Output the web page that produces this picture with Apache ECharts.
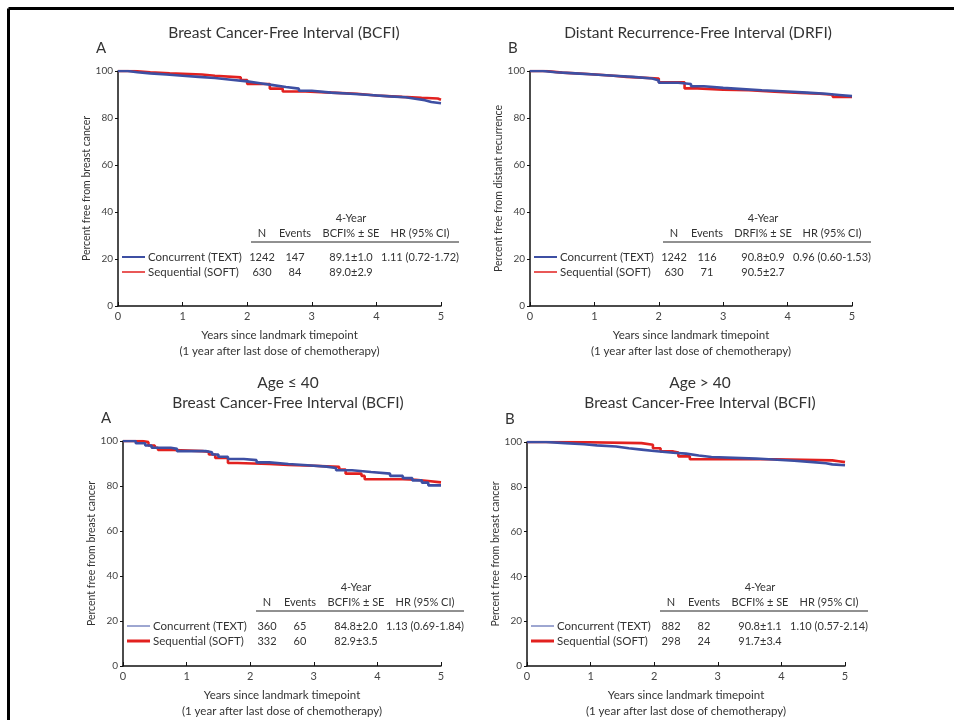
<!DOCTYPE html>
<html>
<head>
<meta charset="utf-8">
<title>BCFI / DRFI by schedule</title>
<script src="https://cdn.jsdelivr.net/npm/echarts@6/dist/echarts.min.js"></script>
<style>
html, body { margin: 0; padding: 0; background: #fff; }
#chart { width: 954px; height: 720px; }
</style>
</head>
<body>
<div id="chart"></div>
<script>
// Kaplan-Meier steps: [years, percent free]
const concA = [[0,100],[0.15,99.5],[0.3,99],[0.5,98.5],[0.75,98],[1.0,97.5],[1.25,97],[1.5,96.3],[1.75,95.6],[2.0,94.8],[2.2,94],[2.4,93.2],[2.6,92.5],[2.8,91.6],[3.0,90.8],[3.3,90.3],[3.6,89.8],[3.9,89.2],[4.2,88.8],[4.45,88.2],[4.6,87.6],[4.75,86.8],[4.85,86.3],[5,86.3]];
const seqA = [[0,100],[0.25,99.5],[0.5,99],[0.8,98.5],[1.3,98],[1.5,97.3],[1.9,96.2],[2.0,94.5],[2.35,92.5],[2.55,91.3],[2.9,90.8],[3.3,90.3],[3.7,89.6],[4.0,89],[4.4,88.6],[4.7,88.3],[4.95,87.8],[5,87.8]];

const concB = [[0,100],[0.2,99.5],[0.4,99],[0.7,98.5],[1.0,98],[1.3,97.5],[1.6,96.8],[1.9,96],[2.0,95],[2.3,94.5],[2.5,93.5],[2.7,92.8],[3.0,92.3],[3.3,91.8],[3.6,91.3],[4.0,90.8],[4.3,90.3],[4.6,89.8],[4.8,89.3],[5,89.3]];
const seqB = [[0,100],[0.25,99.3],[0.5,98.7],[0.9,98],[1.3,97.5],[1.5,96.8],[2.0,95.2],[2.4,92.6],[2.6,92],[3.0,91.8],[3.4,91.2],[3.8,90.7],[4.2,90.3],[4.5,89.9],[4.7,89],[5,89]];

const concC = [[0,100],[0.2,99],[0.35,98],[0.45,97],[0.75,96.5],[0.85,95.5],[1.3,95],[1.4,94],[1.5,93],[1.65,92],[1.9,91.5],[2.1,90.5],[2.3,89.8],[2.6,89.2],[2.9,88.6],[3.2,88],[3.35,87],[3.6,86.2],[3.9,85.5],[4.2,84.5],[4.4,83.5],[4.55,82.5],[4.7,81.5],[4.8,80.3],[5,80.3]];
const seqC = [[0,100],[0.3,99.5],[0.4,98],[0.5,97],[0.55,96],[0.8,95.5],[1.25,95.2],[1.35,94],[1.45,92.5],[1.65,90.2],[1.8,89.8],[2.3,89.3],[2.6,89],[3.0,88.5],[3.4,87.3],[3.5,85.5],[3.75,84.5],[3.8,83],[4.4,82.8],[4.6,82.2],[4.8,81.6],[5,81.6]];

const concD = [[0,100],[0.3,99.5],[0.6,99],[0.9,98.5],[1.1,98],[1.4,97.2],[1.6,96.6],[1.8,96],[2.0,95.2],[2.3,94.8],[2.5,94],[2.7,93.3],[2.9,92.6],[3.6,92.3],[3.8,91.6],[4.2,91],[4.5,90.5],[4.7,90],[4.8,89.6],[5,89.6]];
const seqD = [[0,100],[0.7,99.5],[1.8,98.8],[1.98,97.2],[2.1,95.8],[2.3,95.3],[2.38,93.6],[2.56,92.3],[3.9,91.8],[4.8,91.4],[4.9,91],[5,91]];

const legendNames = ['Concurrent (TEXT)', 'Sequential (SOFT)'];
const headBCFI = ['N', 'Events', 'BCFI% ± SE', 'HR (95% CI)'];
const headDRFI = ['N', 'Events', 'DRFI% ± SE', 'HR (95% CI)'];
const rowsA = [['1242', '147', '89.1±1.0', '1.11 (0.72-1.72)'], ['630', '84', '89.0±2.9', '']];
const rowsB = [['1242', '116', '90.8±0.9', '0.96 (0.60-1.53)'], ['630', '71', '90.5±2.7', '']];
const rowsC = [['360', '65', '84.8±2.0', '1.13 (0.69-1.84)'], ['332', '60', '82.9±3.5', '']];
const rowsD = [['882', '82', '90.8±1.1', '1.10 (0.57-2.14)'], ['298', '24', '91.7±3.4', '']];

const BLUE = '#3d4fa3';
const RED = '#e2211f';
const TXT = '#333';
const FONT = 'Lato, "Open Sans", sans-serif';

const panels = [
	{ grid: { left: 118, top: 71, width: 323, height: 235 }, titles: ['Breast Cancer-Free Interval (BCFI)'], titleX: 284, titleY: [33],
		letter: 'A', yName: 'Percent free from breast cancer', head: headBCFI, rows: rowsA, conc: concA, seq: seqA, bottomStyle: false },
	{ grid: { left: 530, top: 71, width: 322, height: 235 }, titles: ['Distant Recurrence-Free Interval (DRFI)'], titleX: 698, titleY: [33],
		letter: 'B', yName: 'Percent free from distant recurrence', head: headDRFI, rows: rowsB, conc: concB, seq: seqB, bottomStyle: false },
	{ grid: { left: 123, top: 441, width: 318, height: 234 }, titles: ['Age ≤ 40', 'Breast Cancer-Free Interval (BCFI)'], titleX: 288, titleY: [383, 403],
		letter: 'A', yName: 'Percent free from breast cancer', head: headBCFI, rows: rowsC, conc: concC, seq: seqC, bottomStyle: true },
	{ grid: { left: 527, top: 442, width: 318, height: 233 }, titles: ['Age > 40', 'Breast Cancer-Free Interval (BCFI)'], titleX: 700, titleY: [383, 403],
		letter: 'B', yName: 'Percent free from breast cancer', head: headBCFI, rows: rowsD, conc: concD, seq: seqD, bottomStyle: true },
];

function txt(x, y, text, size, align, extra) {
	return Object.assign({
		type: 'text', x: x, y: y, silent: true,
		style: { text: text, font: size + 'px ' + FONT, fill: TXT, align: align, textAlign: align, verticalAlign: 'middle', textVerticalAlign: 'middle' }
	}, extra || {});
}

const graphics = [];
// frame round the figure
graphics.push({ type: 'line', shape: { x1: 8.5, y1: 8.5, x2: 960, y2: 8.5 }, style: { stroke: '#000', lineWidth: 3 } });
graphics.push({ type: 'line', shape: { x1: 8.5, y1: 8.5, x2: 8.5, y2: 730 }, style: { stroke: '#000', lineWidth: 3 } });

const colX = [144, 177, 233, 302];
panels.forEach(p => {
	const g = p.grid;
	const bottom = g.top + g.height;
	p.titles.forEach((t, i) => graphics.push(txt(p.titleX, p.titleY[i], t, 15.5, 'center')));
	graphics.push(txt(g.left - 22, g.top - 23, p.letter, 15, 'left'));

	// legend
	const r1 = bottom - 49, r2 = bottom - 34;
	graphics.push({ type: 'line', shape: { x1: g.left + 4, y1: r1, x2: g.left + 27, y2: r1 }, style: { stroke: BLUE, lineWidth: p.bottomStyle ? 1 : 2 } });
	graphics.push({ type: 'line', shape: { x1: g.left + 4, y1: r2, x2: g.left + 27, y2: r2 }, style: { stroke: RED, lineWidth: p.bottomStyle ? 3 : 1.5 } });
	graphics.push(txt(g.left + 30, r1, legendNames[0], 11.5, 'left'));
	graphics.push(txt(g.left + 30, r2, legendNames[1], 11.5, 'left'));

	// table
	graphics.push(txt(g.left + 233, bottom - 88, '4-Year', 11, 'center'));
	p.head.forEach((h, i) => graphics.push(txt(g.left + colX[i], bottom - 73, h, 11, 'center')));
	graphics.push({ type: 'line', shape: { x1: g.left + 133, y1: bottom - 64, x2: g.left + 341, y2: bottom - 64 }, style: { stroke: '#222', lineWidth: 1 } });
	p.rows.forEach((row, j) => {
		row.forEach((v, i) => { if (v) graphics.push(txt(g.left + colX[i], j ? r2 : r1, v, 11, 'center')); });
	});
});

const option = {
	animation: false,
	backgroundColor: '#fff',
	textStyle: { fontFamily: FONT },
	grid: panels.map(p => Object.assign({ containLabel: false }, p.grid)),
	xAxis: panels.map((p, i) => ({
		type: 'value', gridIndex: i, min: 0, max: 5, interval: 1,
		name: 'Years since landmark timepoint\n(1 year after last dose of chemotherapy)',
		nameLocation: 'middle', nameGap: 21,
		nameTextStyle: { fontSize: 11.5, lineHeight: 16, color: TXT, fontFamily: FONT },
		axisLine: { lineStyle: { color: '#111', width: 1.5 } },
		axisTick: { inside: true, length: 4, lineStyle: { color: '#111' } },
		axisLabel: { fontSize: 11, color: '#444', margin: 5, fontFamily: FONT },
		splitLine: { show: false },
	})),
	yAxis: panels.map((p, i) => ({
		type: 'value', gridIndex: i, min: 0, max: 100, interval: 20,
		name: p.yName, nameLocation: 'middle', nameGap: 24,
		nameTextStyle: { fontSize: 10.5, color: TXT, fontFamily: FONT },
		axisLine: { show: true, lineStyle: { color: '#111', width: 1.5 } },
		axisTick: { show: true, length: 3, lineStyle: { color: '#111' } },
		axisLabel: { fontSize: 10, color: '#444', margin: 5, fontFamily: FONT },
		splitLine: { show: false },
	})),
	series: [],
	graphic: graphics,
};

panels.forEach((p, i) => {
	option.series.push({
		type: 'line', name: legendNames[1], xAxisIndex: i, yAxisIndex: i, step: 'end',
		symbol: 'none', data: p.seq, lineStyle: { color: RED, width: 2.6 }, itemStyle: { color: RED },
	});
	option.series.push({
		type: 'line', name: legendNames[0], xAxisIndex: i, yAxisIndex: i, step: 'end',
		symbol: 'none', data: p.conc, lineStyle: { color: BLUE, width: 2.6 }, itemStyle: { color: BLUE },
	});
});

const myChart = echarts.init(document.getElementById('chart'));
myChart.setOption(option);
</script>
</body>
</html>
